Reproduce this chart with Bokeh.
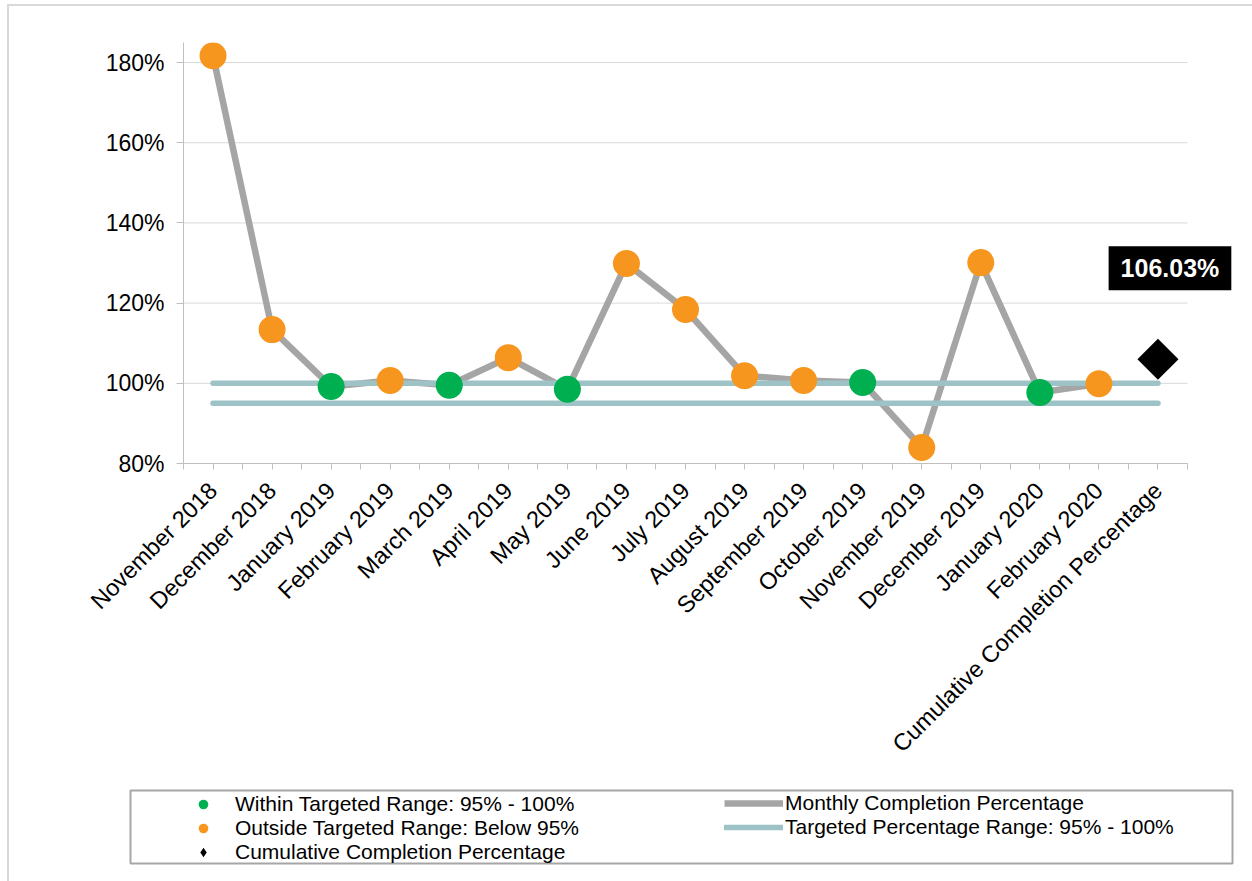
import math
from bokeh.plotting import figure
from bokeh.layouts import column
from bokeh.models import FixedTicker, Legend, LegendItem, Label, BoxAnnotation, Range1d
from bokeh.embed import file_html
from bokeh.resources import INLINE

# ---------------- data ----------------
categories = [
    "November 2018", "December 2018", "January 2019", "February 2019",
    "March 2019", "April 2019", "May 2019", "June 2019", "July 2019",
    "August 2019", "September 2019", "October 2019", "November 2019",
    "December 2019", "January 2020", "February 2020",
    "Cumulative Completion Percentage",
]
monthly_pct = [181.7, 113.4, 99.2, 100.7, 99.5, 106.4, 98.5, 129.9,
               118.4, 101.9, 100.7, 100.2, 84.0, 130.1, 97.7, 99.9]
status = ["outside", "outside", "within", "outside", "within", "outside",
          "within", "outside", "outside", "outside", "outside", "within",
          "outside", "outside", "within", "outside"]
cumulative_pct = 106.03
target_low = 95
target_high = 100
y_ticks = [80, 100, 120, 140, 160, 180]

legend_markers = ["Within Targeted Range: 95% - 100%",
                  "Outside Targeted Range: Below 95%",
                  "Cumulative Completion Percentage"]
legend_lines = ["Monthly Completion Percentage",
                "Targeted Percentage Range: 95% - 100%"]

# ---------------- styles ----------------
FONT = "Liberation Sans"
GREEN = "#00B050"
ORANGE = "#F7961E"
GRAY = "#A5A5A5"
TEAL = "#9DC3C6"
AXIS = "#BFBFBF"
GRID = "#D9D9D9"

OFF_X, OFF_Y = 9, 6           # page offset of the drawing (margin + border)
W = 1252 - OFF_X
H_MAIN = 780 - OFF_Y
H_LEG = 881 - 780

n = len(categories)
xs = [i + 0.5 for i in range(n)]
month_x = xs[:-1]
cum_x = xs[-1]

FRAME_L, FRAME_T, FRAME_B = 183 - OFF_X, 42 - OFF_Y, 463 - OFF_Y
CAT_W = 1004  # width covered by the categories
FRAME_R = 1240 - OFF_X
x_end = n * (FRAME_R - FRAME_L) / CAT_W

p = figure(width=W, height=H_MAIN, x_range=Range1d(0, x_end), y_range=Range1d(80, 185),
           output_backend="svg", toolbar_location=None,
           min_border_left=FRAME_L, min_border_right=W - FRAME_R,
           min_border_top=FRAME_T, min_border_bottom=H_MAIN - FRAME_B)
p.frame_align = False
p.outline_line_color = None
p.background_fill_color = "white"
p.border_fill_color = "white"
p.xgrid.visible = False
p.ygrid.visible = False

# horizontal gridlines limited to the category span
p.segment(x0=[0] * len(y_ticks), x1=[n] * len(y_ticks), y0=y_ticks, y1=y_ticks,
          line_color=GRID, line_width=1)

# y axis
p.yaxis.ticker = FixedTicker(ticks=y_ticks)
p.yaxis.major_label_overrides = {t: f"{t}%" for t in y_ticks}
p.yaxis.axis_line_color = AXIS
p.yaxis.major_tick_line_color = AXIS
p.yaxis.major_tick_out = 7
p.yaxis.major_tick_in = 0
p.yaxis.minor_tick_line_color = None
p.yaxis.major_label_standoff = 12
p.yaxis.major_label_text_font = FONT
p.yaxis.major_label_text_font_size = "23px"
p.yaxis.major_label_text_color = "black"

# x axis
p.xaxis.ticker = FixedTicker(ticks=xs, minor_ticks=list(range(n + 1)))
p.xaxis.bounds = (0, n)
p.xaxis.major_label_overrides = {x: c for x, c in zip(xs, categories)}
p.xaxis.major_label_orientation = math.pi / 4
p.xaxis.axis_line_color = AXIS
p.xaxis.major_tick_line_color = AXIS
p.xaxis.minor_tick_line_color = AXIS
p.xaxis.major_tick_out = 6
p.xaxis.major_tick_in = 0
p.xaxis.minor_tick_out = 6
p.xaxis.minor_tick_in = 0
p.xaxis.major_label_standoff = 17
p.xaxis.major_label_text_font = FONT
p.xaxis.major_label_text_font_size = "23.5px"
p.xaxis.major_label_text_color = "black"

# monthly line
line_style = dict(line_color=GRAY, line_width=6.5)
p.line(month_x, monthly_pct, **line_style)

# target range lines
target_style = dict(line_color=TEAL, line_width=5.5, line_cap="round")
p.line([xs[0], cum_x], [target_high, target_high], **target_style)
p.line([xs[0], cum_x], [target_low, target_low], **target_style)

# markers
gx = [x for x, s in zip(month_x, status) if s == "within"]
gy = [v for v, s in zip(monthly_pct, status) if s == "within"]
ox = [x for x, s in zip(month_x, status) if s == "outside"]
oy = [v for v, s in zip(monthly_pct, status) if s == "outside"]
p.scatter(gx, gy, size=27, fill_color=GREEN, line_color=None)
p.scatter(ox, oy, size=27, fill_color=ORANGE, line_color=None)
p.scatter([cum_x], [cumulative_pct], marker="square", angle=math.pi / 4,
          size=29, fill_color="black", line_color=None)

lbl = Label(x=cum_x, y=cumulative_pct, text=f"{cumulative_pct:.2f}%",
            x_offset=12, y_offset=91, text_align="center", text_baseline="middle",
            text_color="white", text_font=FONT, text_font_style="bold",
            text_font_size="25px", background_fill_color="black", padding=(12, 8))
p.add_layout(lbl)

# ---------------- legend panel ----------------
# data coordinates of this panel equal page pixels
lf = figure(width=W, height=H_LEG, x_range=Range1d(OFF_X, 1252), y_range=Range1d(881, 780),
            output_backend="svg", toolbar_location=None,
            min_border=0, min_border_left=0, min_border_right=0,
            min_border_top=0, min_border_bottom=0)
lf.frame_align = False
lf.axis.visible = False
lf.grid.visible = False
lf.outline_line_color = None
lf.background_fill_color = "white"
lf.border_fill_color = "white"

# legend-only renderers (a single NaN point so nothing is drawn in the panel)
nan = [float("nan")]
lg_green = lf.scatter(x=nan, y=nan, size=27, fill_color=GREEN, line_color=None)
lg_orange = lf.scatter(x=nan, y=nan, size=27, fill_color=ORANGE, line_color=None)
lg_diamond = lf.scatter(x=nan, y=nan, marker="diamond", size=29,
                        fill_color="black", line_color=None)
lg_line = lf.line(x=nan, y=nan, **line_style)
lg_target = lf.line(x=nan, y=nan, **target_style)

common = dict(border_line_color=None, background_fill_alpha=0, padding=0, margin=0,
              spacing=0, label_text_font=FONT, label_text_font_size="21px",
              label_text_color="black", glyph_height=24, label_height=24)

leg1 = Legend(items=[LegendItem(label=t, renderers=[r]) for t, r in
                     zip(legend_markers, [lg_green, lg_orange, lg_diamond])],
              location=(191 - OFF_X, 881 - 864), glyph_width=24, label_standoff=20, **common)
leg2 = Legend(items=[LegendItem(label=t, renderers=[r]) for t, r in
                     zip(legend_lines, [lg_line, lg_target])],
              location=(724 - OFF_X, 881 - 839), glyph_width=59, label_standoff=2, **common)
lf.add_layout(leg1)
lf.add_layout(leg2)

lf.add_layout(BoxAnnotation(left=130, right=1232, top=790, bottom=863,
                            fill_color=None, line_color="#A6A6A6", line_alpha=1,
                            line_width=2))

layout = column(p, lf, spacing=0,
                styles={"margin-left": "7px", "margin-top": "4px",
                        "border-left": "2px solid #D9D9D9",
                        "border-top": "2px solid #D9D9D9"})

open("out.html", "w").write(file_html(layout, INLINE))
